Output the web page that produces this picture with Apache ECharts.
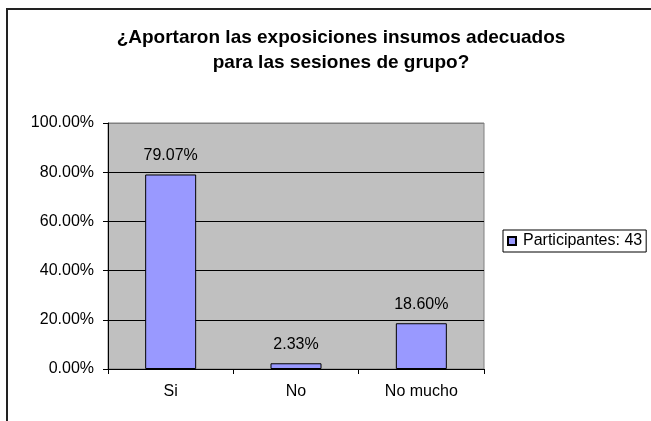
<!DOCTYPE html>
<html lang="es">
<head>
  <meta charset="UTF-8">
  <title>¿Aportaron las exposiciones insumos adecuados?</title>
  <script src="https://cdn.jsdelivr.net/npm/echarts@6/dist/echarts.min.js"></script>
  <style>
    body { margin: 0; background: #fff; }
    #chart { width: 651px; height: 421px; }
  </style>
</head>
<body>
  <div id="chart"></div>
  <script>
    const titulo = '¿Aportaron las exposiciones insumos adecuados\npara las sesiones de grupo?';
    const categorias = ['Si', 'No', 'No mucho'];
    const valores = [0.7907, 0.0233, 0.1860];
    const serieNombre = 'Participantes: 43';

    const pct = v => (v * 100).toFixed(2) + '%';
    const fuente = 'Liberation Sans, Arial, sans-serif';

    const chart = echarts.init(document.getElementById('chart'));
    chart.setOption({
      animation: false,
      textStyle: { fontFamily: fuente },
      graphic: [{
        type: 'rect',
        shape: { x: 7, y: 9, width: 700, height: 500 },
        style: { fill: 'none', stroke: '#222', lineWidth: 2 },
        z: 0
      }],
      title: {
        text: titulo,
        left: 336,
        top: 20,
        textAlign: 'center',
        textStyle: { fontSize: 19, fontWeight: 'bold', lineHeight: 25, color: '#000', fontFamily: fuente }
      },
      legend: {
        data: [serieNombre],
        left: 503,
        top: 230,
        orient: 'vertical',
        itemWidth: 8,
        itemHeight: 8,
        padding: [3, 4, 3, 4],
        borderColor: '#000',
        borderWidth: 1,
        textStyle: { fontSize: 16, color: '#000', fontFamily: fuente, padding: [0, 0, 0, 2] },
        icon: 'rect'
      },
      grid: {
        left: 108, top: 123, right: 167, bottom: 52,
        show: true,
        backgroundColor: '#c0c0c0',
        borderColor: '#808080',
        borderWidth: 1
      },
      xAxis: {
        type: 'category',
        data: categorias,
        axisLine: { lineStyle: { color: '#000', width: 1 } },
        axisTick: { show: true, length: 5, lineStyle: { color: '#000' } },
        axisLabel: { color: '#000', fontSize: 16, margin: 15 }
      },
      yAxis: {
        type: 'value',
        min: 0,
        max: 1,
        interval: 0.2,
        axisLine: { show: true, lineStyle: { color: '#000', width: 1 } },
        axisTick: { show: true, length: 5, lineStyle: { color: '#000' } },
        axisLabel: { color: '#000', fontSize: 16, margin: 14, formatter: pct },
        splitLine: { lineStyle: { color: ['#000', '#000', '#000', '#000', '#000', '#808080'], width: 1 } }
      },
      series: [{
        name: serieNombre,
        type: 'bar',
        data: valores,
        barWidth: 51,
        itemStyle: { color: '#9999ff', borderColor: '#000', borderWidth: 1 },
        label: {
          show: true,
          position: 'top',
          distance: 11,
          color: '#000',
          fontSize: 16,
          fontFamily: fuente,
          formatter: p => pct(p.value)
        }
      }]
    });
  </script>
</body>
</html>
